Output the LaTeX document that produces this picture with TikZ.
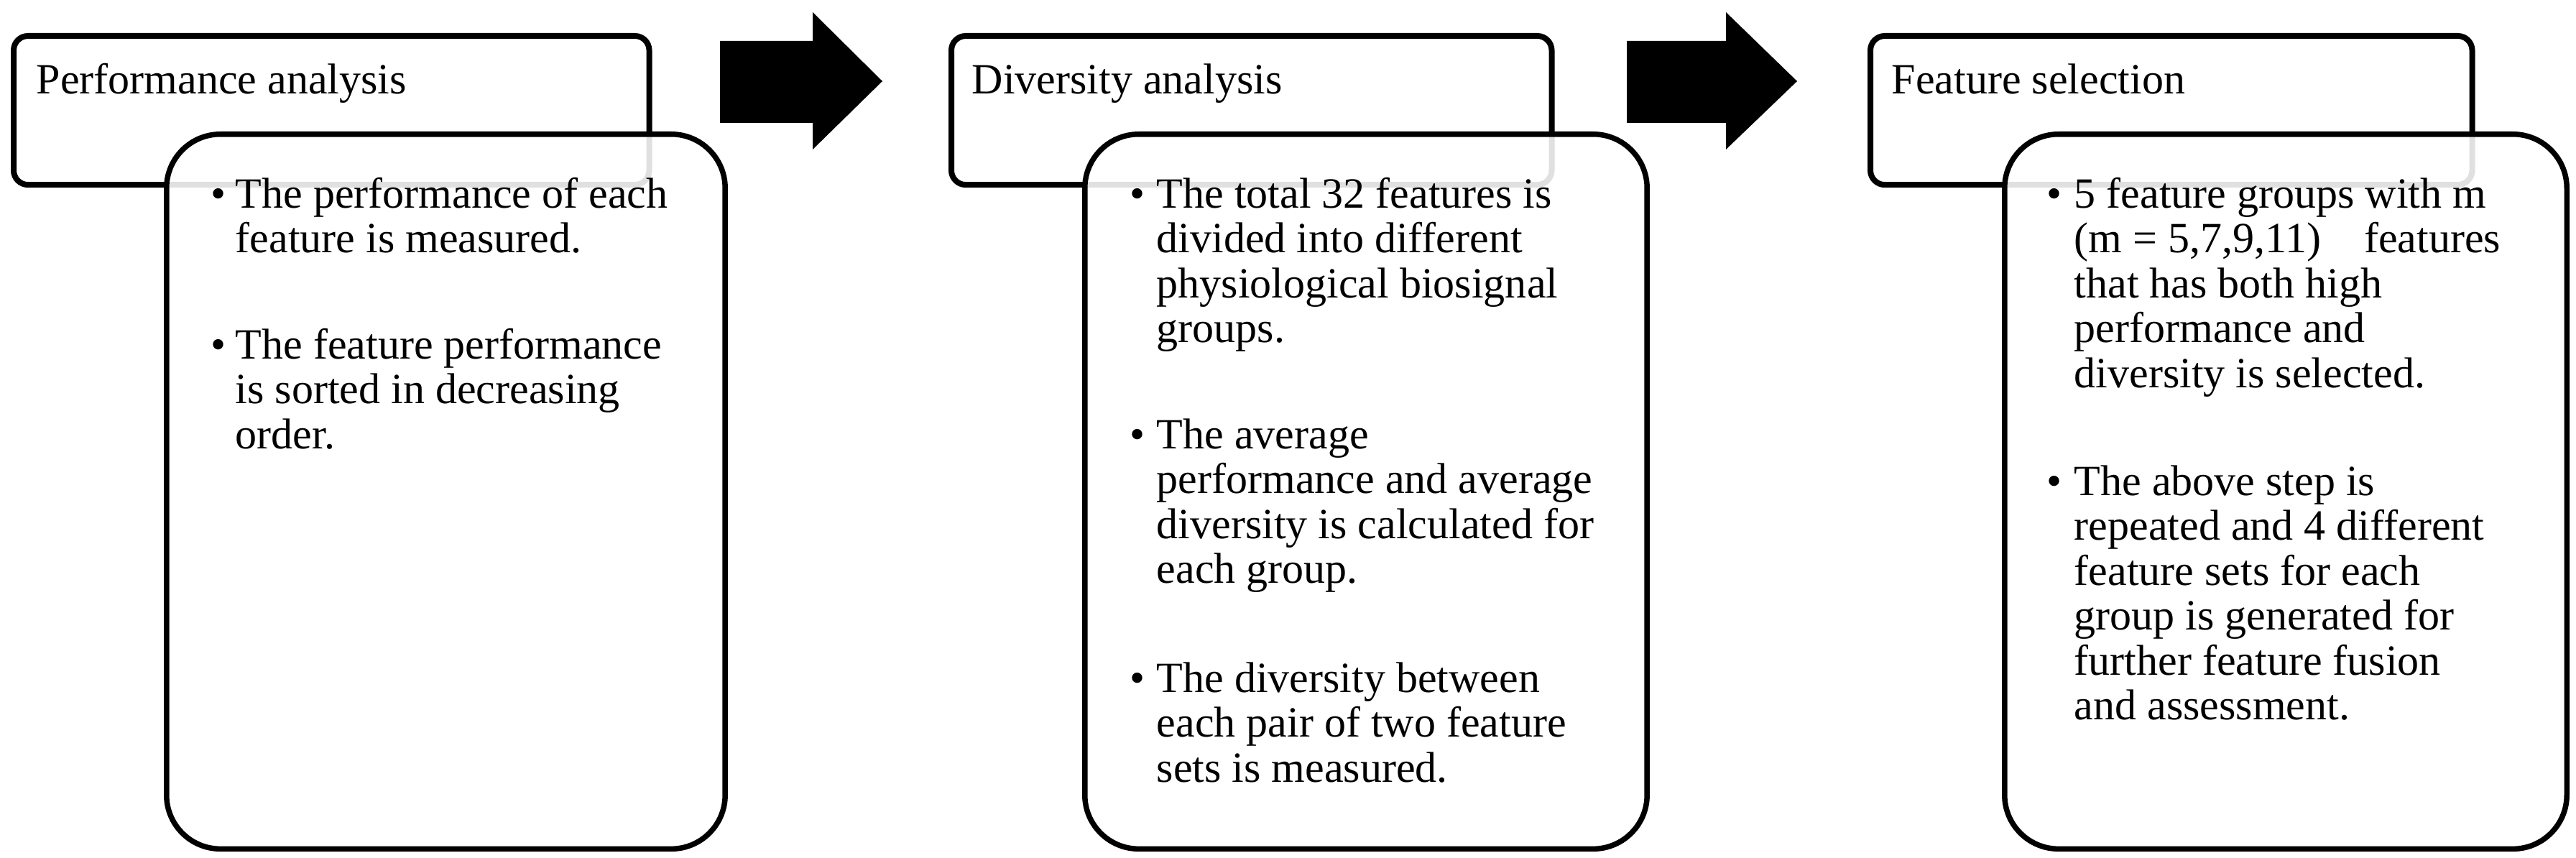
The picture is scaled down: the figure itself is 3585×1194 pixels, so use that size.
\documentclass[tikz,border=0pt]{standalone}
\usepackage{fontspec}
\setmainfont{Liberation Serif}
\begin{document}
\begin{tikzpicture}[x=0.01cm,y=-0.01cm,
  headbox/.style={draw=black, line width=0.08cm, rounded corners=0.2cm, fill=white,
    rectangle, anchor=north west, inner sep=0pt, minimum height=2.07cm},
  bodybox/.style={draw=black, line width=0.075cm, rounded corners=0.75cm, fill=white,
    fill opacity=0.88, rectangle, anchor=north west, inner sep=0pt,
    minimum height=9.94cm, minimum width=7.82cm},
  blockarrow/.style={fill=black},
  txt/.style={inner sep=0pt, anchor=base west, font=\fontsize{17.07}{17.78}\selectfont},
  bul/.style={inner sep=0pt, anchor=base west, font=\fontsize{17.07}{17.78}\selectfont},
]
\useasboundingbox (0,0) rectangle (3585,1194);

% ---------- stage 1 ----------
\node[headbox, minimum width=8.84cm] (h1) at (15,46) {};
\node[txt] (h1t) at (50,130) {Performance analysis};
\node[bodybox, minimum width=7.77cm] (b1) at (228,183) {};
\node[bul] (b1p1) at (293,289) {\textbullet};
\node[txt] (b1t1) at (327,289) {\begin{tabular}[t]{@{}l@{}}The performance of each\\feature is measured.\end{tabular}};
\node[bul] (b1p2) at (293,499) {\textbullet};
\node[txt] (b1t2) at (327,499) {\begin{tabular}[t]{@{}l@{}}The feature performance\\is sorted in decreasing\\order.\end{tabular}};

% arrow 1
\fill[blockarrow] (1002,57) -- (1131,57) -- (1131,17) -- (1228,113) -- (1131,208) -- (1131,171) -- (1002,171) -- cycle;

% ---------- stage 2 ----------
\node[headbox, minimum width=8.35cm] (h2) at (1320,46) {};
\node[txt] (h2t) at (1352,130) {Diversity analysis};
\node[bodybox] (b2) at (1506,183) {};
\node[bul] (b2p1) at (1572,289) {\textbullet};
\node[txt] (b2t1) at (1609,289) {\begin{tabular}[t]{@{}l@{}}The total 32 features is\\divided into different\\physiological biosignal\\groups.\end{tabular}};
\node[bul] (b2p2) at (1572,624) {\textbullet};
\node[txt] (b2t2) at (1609,624) {\begin{tabular}[t]{@{}l@{}}The average\\performance and average\\diversity is calculated for\\each group.\end{tabular}};
\node[bul] (b2p3) at (1572,963) {\textbullet};
\node[txt] (b2t3) at (1609,963) {\begin{tabular}[t]{@{}l@{}}The diversity between\\each pair of two feature\\sets is measured.\end{tabular}};

% arrow 2
\fill[blockarrow] (2264,57) -- (2402,57) -- (2402,17) -- (2501,113) -- (2402,208) -- (2402,171) -- (2264,171) -- cycle;

% ---------- stage 3 ----------
\node[headbox, minimum width=8.37cm] (h3) at (2599,46) {};
\node[txt] (h3t) at (2632,130) {Feature selection};
\node[bodybox] (b3) at (2786,183) {};
\node[bul] (b3p1) at (2848,289) {\textbullet};
\node[txt] (b3t1) at (2886,289) {\begin{tabular}[t]{@{}l@{}}5 feature groups with m\\(m = 5,7,9,11)\quad features\\that has both high\\performance and\\diversity is selected.\end{tabular}};
\node[bul] (b3p2) at (2848,689) {\textbullet};
\node[txt] (b3t2) at (2886,689) {\begin{tabular}[t]{@{}l@{}}The above step is\\repeated and 4 different\\feature sets for each\\group is generated for\\further feature fusion\\and assessment.\end{tabular}};
\end{tikzpicture}
\end{document}
